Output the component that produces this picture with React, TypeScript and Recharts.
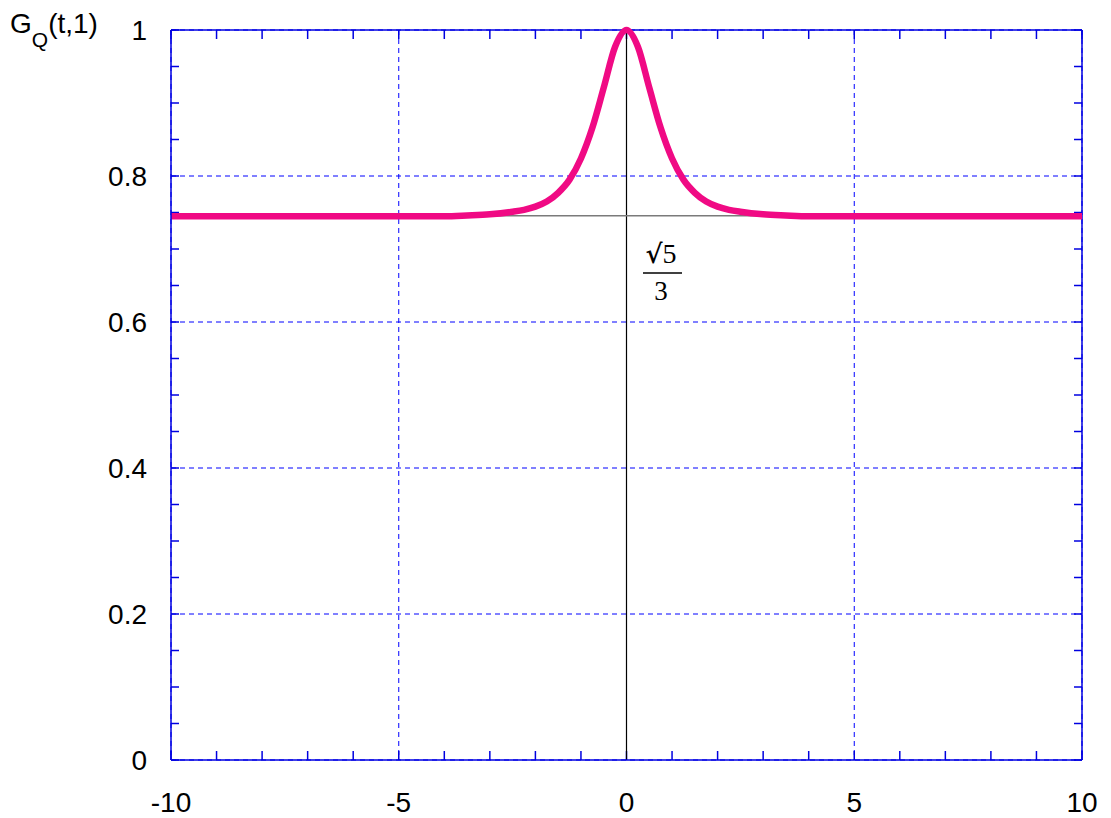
import React from 'react'
import { LineChart, Line, XAxis, YAxis, CartesianGrid, ReferenceLine } from 'recharts'

// G_Q(t,1); the flat tails sit on sqrt(5)/3
const tValues = [-10, -4, -3.5, -3, -2.5, -2.25, -2, -1.75, -1.5, -1.25, -1, -0.75, -0.5, -0.25, 0, 0.25, 0.5, 0.75, 1, 1.25, 1.5, 1.75, 2, 2.25, 2.5, 3, 3.5, 4, 10]
const gValues = [0.745, 0.745, 0.746, 0.7475, 0.751, 0.7537, 0.758, 0.765, 0.777, 0.795, 0.824, 0.866, 0.921, 0.977, 1, 0.977, 0.921, 0.866, 0.824, 0.795, 0.777, 0.765, 0.758, 0.7537, 0.751, 0.7475, 0.746, 0.745, 0.745]

const xTicks = [-10, -5, 0, 5, 10]
const yTicks = [0, 0.2, 0.4, 0.6, 0.8, 1]
const xMinorTicks = [-10, -9, -8, -7, -6, -5, -4, -3, -2, -1, 0, 1, 2, 3, 4, 5, 6, 7, 8, 9, 10]
const yMinorTicks = [0, 0.05, 0.1, 0.15, 0.2, 0.25, 0.3, 0.35, 0.4, 0.45, 0.5, 0.55, 0.6, 0.65, 0.7, 0.75, 0.8, 0.85, 0.9, 0.95, 1]
const baseline = 0.7454 // sqrt(5)/3

const data = tValues.map((t, i) => ({ t, g: gValues[i] }))

// inward tick lengths in data units (~9px tall, ~8px wide)
const xTickLen = 0.0123
const yTickLen = 0.176

const sans = '"Liberation Sans", Arial, sans-serif'
const serif = '"Liberation Serif", "Times New Roman", serif'
const frame = '#0000e0'
const tickStyle = { fill: '#000', fontSize: 28, fontFamily: sans }

export default function App() {
  return (
    <div style={{ position: 'relative', width: 1103, height: 810 }}>
      <LineChart width={1103} height={810} data={data} margin={{ top: 22, right: 29, bottom: 0, left: 0 }}>
        <CartesianGrid stroke="#0000ff" strokeDasharray="5 4" strokeWidth={1} />
        <XAxis
          dataKey="t"
          type="number"
          domain={[-10, 10]}
          ticks={xTicks}
          interval={0}
          height={58}
          tickSize={0}
          tickMargin={32}
          tickLine={false}
          axisLine={{ stroke: frame, strokeWidth: 1.5 }}
          tick={tickStyle}
        />
        <YAxis
          type="number"
          domain={[0, 1]}
          ticks={yTicks}
          interval={0}
          width={163}
          tickSize={0}
          tickMargin={24}
          tickLine={false}
          axisLine={{ stroke: frame, strokeWidth: 1.5 }}
          tick={tickStyle}
        />
        <ReferenceLine y={1} stroke={frame} strokeWidth={1.5} />
        <ReferenceLine x={10} stroke={frame} strokeWidth={1.5} />
        {xMinorTicks.map((t) => (
          <ReferenceLine
            key={`xb${t}`}
            segment={[{ x: t, y: 0 }, { x: t, y: xTickLen }]}
            stroke={frame}
            strokeWidth={1.5}
          />
        ))}
        {xMinorTicks.map((t) => (
          <ReferenceLine
            key={`xt${t}`}
            segment={[{ x: t, y: 1 }, { x: t, y: 1 - xTickLen }]}
            stroke={frame}
            strokeWidth={1.5}
          />
        ))}
        {yMinorTicks.map((v) => (
          <ReferenceLine
            key={`yl${v}`}
            segment={[{ x: -10, y: v }, { x: -10 + yTickLen, y: v }]}
            stroke={frame}
            strokeWidth={1.5}
          />
        ))}
        {yMinorTicks.map((v) => (
          <ReferenceLine
            key={`yr${v}`}
            segment={[{ x: 10, y: v }, { x: 10 - yTickLen, y: v }]}
            stroke={frame}
            strokeWidth={1.5}
          />
        ))}
        <ReferenceLine x={0} stroke="#000" strokeWidth={1.2} />
        <ReferenceLine y={baseline} stroke="#7a7a7a" strokeWidth={1.5} />
        <Line
          dataKey="g"
          type="monotone"
          stroke="#f00a84"
          strokeWidth={6.5}
          dot={false}
          isAnimationActive={false}
        />
      </LineChart>
      <svg
        width={1103}
        height={810}
        style={{ position: 'absolute', left: 0, top: 0, pointerEvents: 'none' }}
      >
        <text x={2} y={25} fontFamily={sans} fontSize={28} fill="#000">
          G
          <tspan fontSize={21} dy={14}>Q</tspan>
          <tspan dy={-14}>(t,1)</tspan>
        </text>
        <text x={653} y={255} fontFamily={serif} fontSize={28} fill="#000" textAnchor="middle">
          <tspan fontFamily='"DejaVu Serif", serif' fontWeight="bold" fontSize={26}>√</tspan>5
        </text>
        <line x1={635} x2={674} y1={265} y2={265} stroke="#000" strokeWidth={1.6} />
        <text x={653} y={292} fontFamily={serif} fontSize={27} fill="#000" textAnchor="middle">
          3
        </text>
      </svg>
    </div>
  )
}
